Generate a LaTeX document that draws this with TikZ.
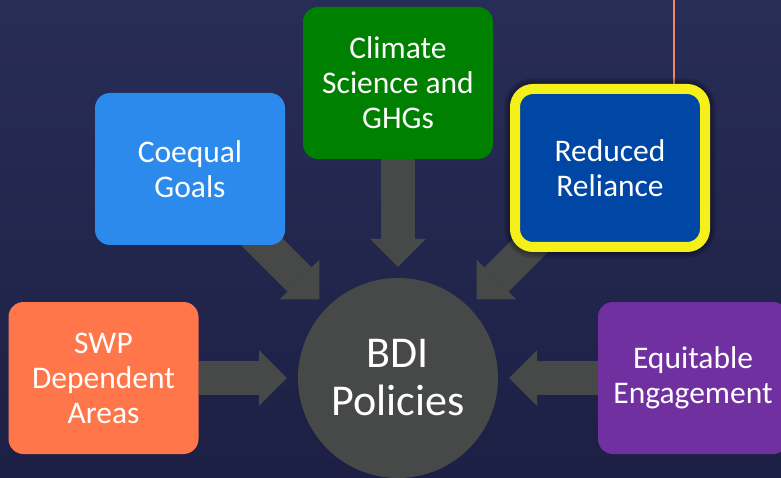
\documentclass[tikz,border=0pt]{standalone}
\usepackage{fontspec}
\setmainfont{Carlito}
\usetikzlibrary{arrows.meta}

\definecolor{bgtop}{HTML}{282D57}
\definecolor{bgbot}{HTML}{1D2044}
\definecolor{hubgray}{HTML}{474948}
\definecolor{coequalblue}{HTML}{2B8AEB}
\definecolor{climategreen}{HTML}{008000}
\definecolor{reliblue}{HTML}{0046A4}
\definecolor{hiyellow}{HTML}{F5F01A}
\definecolor{swporange}{HTML}{FF764A}
\definecolor{equipurple}{HTML}{7030A0}
\definecolor{leadsalmon}{HTML}{F2846C}

\pgfdeclarelayer{canvas}
\pgfdeclarelayer{links}
\pgfsetlayers{canvas,links,main}

\begin{document}
\begin{tikzpicture}[x=1pt,y=-1pt,
  topic/.style={rectangle, rounded corners=15pt, minimum width=190pt,
    minimum height=152pt, inner sep=0pt, text=white, align=center,
    font=\fontsize{31.5}{35}\selectfont},
  hub/.style={circle, fill=hubgray, minimum size=200pt, inner sep=0pt,
    text=white, align=center, font=\fontsize{44}{48}\selectfont},
  bigarrow/.style={draw=hubgray, line width=34pt,
    -{Triangle[width=56pt,length=28pt,line width'=0pt]}, shorten >=11pt},
  leadline/.style={draw=leadsalmon, line width=1.6pt},
  halo/.style={draw=black, opacity=0.12, rounded corners=18pt}]

\useasboundingbox (0,0) rectangle (781,478);

% central hub
\node[hub] (bdi) at (398,378) {BDI\\Policies};

% surrounding topics
\node[topic, fill=coequalblue] (coequal) at (190,169) {Coequal\\Goals};
\node[topic, fill=climategreen] (climate) at (398,83) {Climate\\Science and\\GHGs};
\node[topic, fill=reliblue, minimum height=158pt, draw=hiyellow,
  line width=10pt, rounded corners=18pt] (reduced) at (610,168)
  {Reduced\\Reliance};
\node[topic, fill=swporange] (swp) at (103.5,378) {SWP\\Dependent\\Areas};
\node[topic, fill=equipurple] (equit) at (693,378) {Equitable\\Engagement};

% feet of the diagonal arrows, hidden behind their boxes
\coordinate (cgfoot) at (244,224);
\coordinate (rrfoot) at (552,224);
\coordinate (lead) at (674,0);

\begin{pgfonlayer}{canvas}
  \fill[bgbot] (0,0) rectangle (781,478);
  \shade[top color=bgtop, bottom color=bgbot] (0,0) rectangle (781,478);
\end{pgfonlayer}

\begin{pgfonlayer}{links}
  \draw[bigarrow] (cgfoot) -- (bdi);
  \draw[bigarrow] (climate) -- (bdi);
  \draw[bigarrow] (rrfoot) -- (bdi);
  \draw[bigarrow] (swp) -- (bdi);
  \draw[bigarrow] (equit) -- (bdi);
  \draw[leadline] (lead) -- (lead |- reduced.north);
  % soft dark halo round the highlighted box
  \foreach \w in {14,18,22}
    \draw[halo, line width=\w pt]
      ([shift={(5,5)}]reduced.north west) rectangle
      ([shift={(-5,-5)}]reduced.south east);
\end{pgfonlayer}

\end{tikzpicture}
\end{document}
